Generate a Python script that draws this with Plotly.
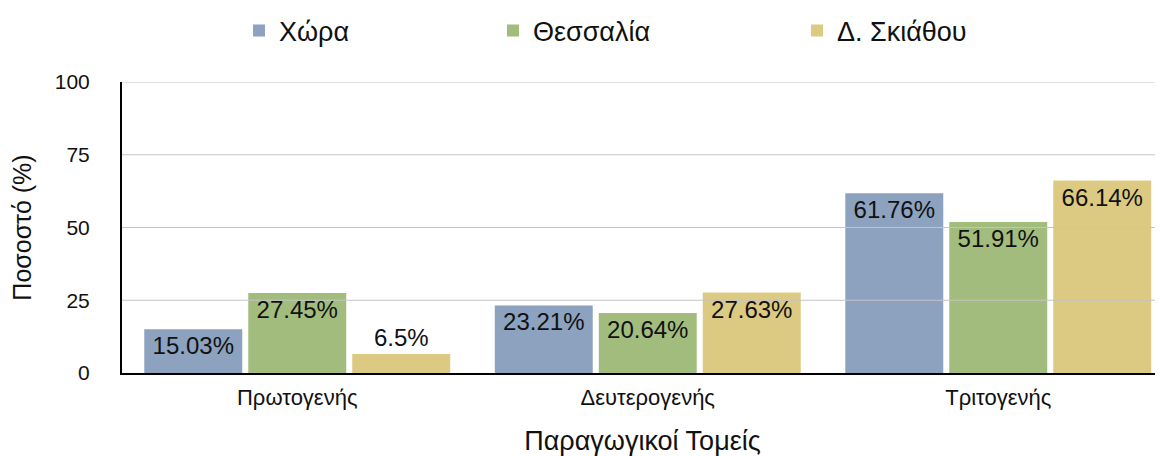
import plotly.graph_objects as go

categories = ["Πρωτογενής", "Δευτερογενής", "Τριτογενής"]
series_names = ["Χώρα", "Θεσσαλία", "Δ. Σκιάθου"]
chora = [15.03, 23.21, 61.76]
thessalia = [27.45, 20.64, 51.91]
skiathos = [6.5, 27.63, 66.14]
y_ticks = [0, 25, 50, 75, 100]

colors = ["#8CA2BE", "#A2BC7D", "#DCC982"]
FONT = "Liberation Sans, Arial, sans-serif"

# page body has an 8px margin; compensate so the plot area lands where the reference has it
PAGE = 8
W, H = 1163 - PAGE, 456
L, T, B = 122 - PAGE, 82 - PAGE, 456 - 373 + PAGE
plot_w = W - L
legend_text_px = [284, 538, 842]
legend_x = [(px - 45 - 122) / plot_w for px in legend_text_px]

fig = go.Figure()
for i, (name, vals) in enumerate(zip(series_names, [chora, thessalia, skiathos])):
    fig.add_trace(go.Bar(
        x=categories, y=vals, name=name,
        marker=dict(color=colors[i], line=dict(width=0)),
        text=[f"{v:g}%" for v in vals],
        textposition=["outside" if v < 10 else "inside" for v in vals],
        insidetextanchor="end",
        constraintext="none", cliponaxis=False,
        textfont=dict(size=24, color="#111111", family=FONT),
        legend="legend" if i == 0 else f"legend{i+1}",
        showlegend=True,
        hoverinfo="skip",
    ))

plot_h = H - T - B
legend_y = 1 + (82 - 31) / plot_h
legend_common = dict(orientation="h", yanchor="middle", y=legend_y, xanchor="left",
                     font=dict(size=27, family=FONT, color="#111111"),
                     bgcolor="rgba(0,0,0,0)")
fig.update_layout(
    showlegend=True,
    legend=dict(x=legend_x[0], **legend_common),
    legend2=dict(x=legend_x[1], **legend_common),
    legend3=dict(x=legend_x[2], **legend_common),
)

for t in y_ticks[1:]:
    fig.add_shape(type="line", xref="paper", x0=0, x1=1, yref="y", y0=t, y1=t,
                  line=dict(color="#C4C4C4", width=1), layer="above")

fig.update_layout(
    width=W, height=H,
    margin=dict(l=L, r=0, t=T, b=B, autoexpand=False),
    paper_bgcolor="white", plot_bgcolor="white",
    barmode="group", bargap=0.11, bargroupgap=0.058,
    font=dict(family=FONT, color="#111111"),
    xaxis=dict(range=[-0.5, 2.47], showline=True, linecolor="black", linewidth=2,
               showgrid=False, ticks="", tickfont=dict(size=22), automargin=False,
               ticklabelstandoff=4,
               title=dict(text="Παραγωγικοί Τομείς", font=dict(size=27), standoff=22)),
    yaxis=dict(range=[0, 100], tickvals=y_ticks, showline=True, linecolor="black",
               linewidth=2, showgrid=False, zeroline=False, automargin=False,
               ticks="outside", ticklen=26, tickcolor="rgba(0,0,0,0)",
               tickfont=dict(size=21),
               title=dict(text="Ποσοστό (%)", font=dict(size=25), standoff=22)),
)

fig.write_html("out.html")
